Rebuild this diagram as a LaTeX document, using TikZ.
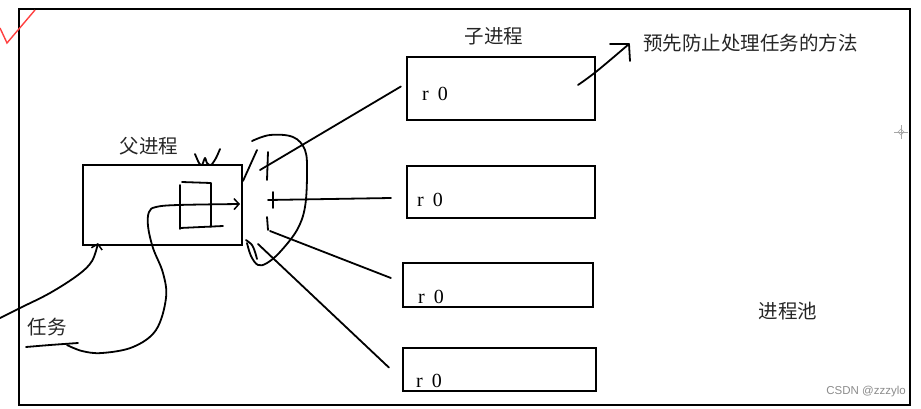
\documentclass[tikz,border=0pt]{standalone}
\usepackage{fontspec}
\setmainfont{Liberation Serif}
\newfontfamily\cjk{Noto Sans CJK SC}
\usetikzlibrary{arrows.meta}
\begin{document}
\begin{tikzpicture}[x=1pt,y=-1pt,
  procbox/.style={draw,line width=2.2pt,rectangle,inner sep=0pt},
  hand/.style={line width=1.8pt,line cap=round,line join=round},
  zh/.style={font=\cjk\fontsize{19.5}{20}\selectfont,text=black!85,inner sep=0pt},
  reg/.style={font=\fontsize{20}{21}\selectfont,inner sep=0pt,anchor=west},
  barb/.style={-{Straight Barb[length=5pt,width=11pt,line width=1.5pt]}}]
\useasboundingbox (0,0) rectangle (921,408);
\fill[white] (0,0) rectangle (921,408);
% outer frame (process pool)
\node[draw,line width=2.6pt,rectangle,inner sep=0pt,minimum width=891pt,minimum height=396pt] (pool) at (464.5,207) {};
% red check mark
\draw[red!75,line width=1.4pt] (0,28) -- (7,43) -- (35,10);
% parent process
\node[procbox,minimum width=159pt,minimum height=80pt] (parent) at (162.5,205) {};
\node[zh] (parentlbl) at (149,146) {父进程};
% child processes
\node[procbox,minimum width=188pt,minimum height=63pt] (c1) at (501,88.5) {};
\node[procbox,minimum width=188pt,minimum height=52pt] (c2) at (501,192) {};
\node[procbox,minimum width=190pt,minimum height=44pt] (c3) at (498,285) {};
\node[procbox,minimum width=193pt,minimum height=43pt] (c4) at (499.5,369.5) {};
\node[reg] (r1) at (422,94) {r\hspace{9pt}0};
\node[reg] (r2) at (417,200) {r\hspace{9pt}0};
\node[reg] (r3) at (418,297) {r\hspace{9pt}0};
\node[reg] (r4) at (416,381) {r\hspace{9pt}0};
\node[zh] (childlbl) at (494,36) {子进程};
\node[zh,anchor=west] (method) at (643,43) {预先防止处理任务的方法};
\node[zh] (poollbl) at (788,311) {进程池};
\node[zh] (task) at (47,327) {任务};
\node[font=\fontspec{Liberation Sans}\fontsize{11.5}{12}\selectfont,text=black!45,anchor=east,inner sep=0pt] (wm) at (906,392) {CSDN @zzzylo};
% cursor mark
\draw[black!35,line width=0.6pt] (894,132) -- (908,132) (901,125) -- (901,139);
\draw[black!35,line width=0.6pt] (898,132) -- (901,129) -- (904,132) -- (901,135) -- cycle;
% squiggle on parent top
\draw[hand] plot[smooth,tension=0.5] coordinates {(195,154) (199,163) (202,165) (205,158) (207,163) (211,165) (216,158) (220,149)};
% inner square
\draw[hand] (180,185) -- (180,229) (182,182) -- (211,183) -- (211,227) (180,228) -- (223,226);
% blob (fork point)
\draw[hand] (243,181) -- (257,150);
\draw[hand] plot[smooth,tension=0.6] coordinates {(252,141) (270,135) (293,137) (305,150) (307,173) (305,207) (297,230) (280,252) (267,263) (258,265) (251,256) (247,243)};
\draw[hand] plot[smooth,tension=0.6] coordinates {(246,240) (252,245) (255,252) (257,259)};
\draw[hand] (268,152) -- (267,180);
\draw[hand] (273,192) -- (273,208);
\draw[hand] (267,217) -- (268,230);
% coordinates for fork lines
\coordinate (f1) at (260,170);
\coordinate (f2) at (268,200);
\coordinate (f3) at (270,231);
\coordinate (f4) at (258,244);
\coordinate (e1) at ([shift={(-5,-2)}]c1.west);
\coordinate (e2) at ([shift={(-15,6)}]c2.west);
\coordinate (e3) at ([shift={(-11,-7)}]c3.west);
\coordinate (e4) at ([shift={(-13,-2)}]c4.west);
\draw[hand] (f1) -- (e1);
\draw[hand] (f2) -- (e2);
\draw[hand] (f3) -- (e3);
\draw[hand] (f4) -- (e4);
% task arrows
\coordinate (t0) at (0,318);
\coordinate (t1) at (98,243);
\draw[hand,barb] plot[smooth,tension=0.6] coordinates {(t0) (20,308) (50,293) (78,275) (92,261) (t1)};
\draw[hand] plot[smooth,tension=0.5] coordinates {(26,347) (50,345) (78,343)};
\coordinate (t2) at (240,204);
\draw[hand,barb] plot[smooth,tension=0.6] coordinates {(67,345) (82,351) (102,353) (133,347) (156,330) (166,298) (163,273) (153,248) (148,226) (149,212) (156,207) (178,205) (t2)};
% arrow from child 1 to method text
\coordinate (m0) at (578,85);
\coordinate (m1) at (629,44);
\draw[hand] plot[smooth,tension=0.6] coordinates {(m0) (597,71) (m1)};
\draw[hand] (610,44) -- (m1) -- (630,61);
\end{tikzpicture}
\end{document}
